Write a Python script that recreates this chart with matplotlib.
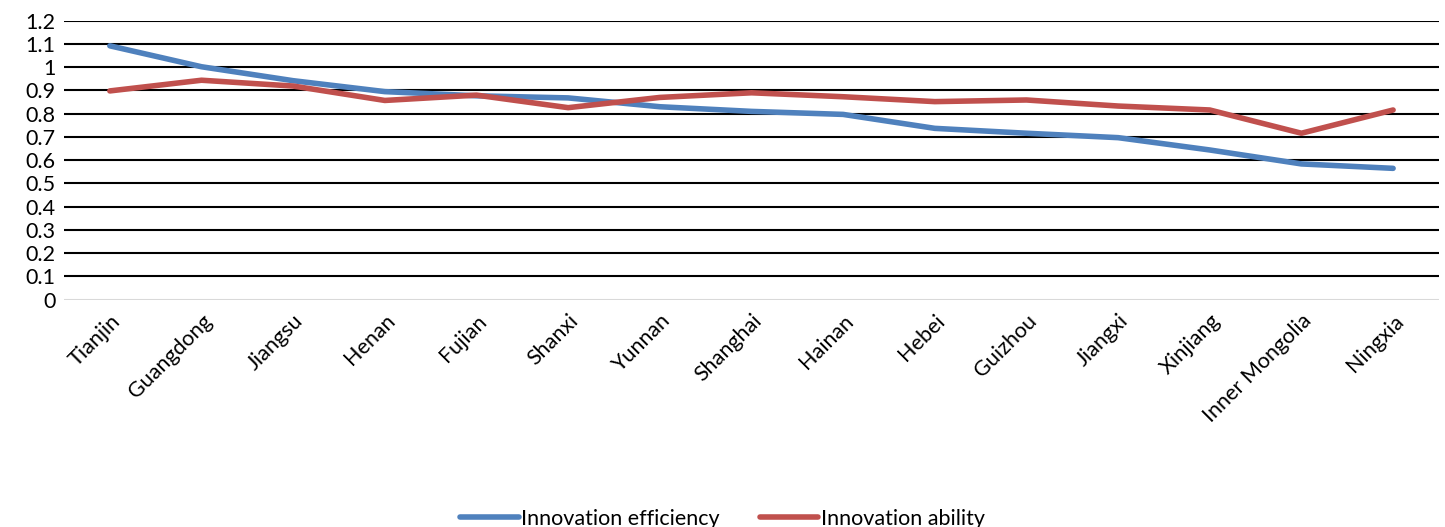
import matplotlib
matplotlib.use('Agg')
from matplotlib import pyplot as plt

provinces = ['Tianjin', 'Guangdong', 'Jiangsu', 'Henan', 'Fujian', 'Shanxi', 'Yunnan',
             'Shanghai', 'Hainan', 'Hebei', 'Guizhou', 'Jiangxi', 'Xinjiang',
             'Inner Mongolia', 'Ningxia']
efficiency = [1.092, 1.002, 0.942, 0.895, 0.877, 0.868, 0.830, 0.810, 0.797, 0.737,
              0.716, 0.697, 0.644, 0.584, 0.565]
ability = [0.898, 0.944, 0.919, 0.857, 0.880, 0.826, 0.870, 0.890, 0.873, 0.852,
           0.859, 0.833, 0.816, 0.716, 0.816]
y_ticks = [0, 0.1, 0.2, 0.3, 0.4, 0.5, 0.6, 0.7, 0.8, 0.9, 1, 1.1, 1.2]
y_labels = ['0', '0.1', '0.2', '0.3', '0.4', '0.5', '0.6', '0.7', '0.8', '0.9', '1', '1.1', '1.2']

plt.rcParams['font.family'] = ['Lato', 'DejaVu Sans']
fs = 15.5

fig = plt.figure(figsize=(14.45, 5.27), dpi=100)
ax = fig.add_axes([0.0443, 0.4313, 0.9515, 0.5294])

x = list(range(len(provinces)))
ax.plot(x, efficiency, color='#4F81BD', lw=4.0, solid_capstyle='round',
        label='Innovation efficiency', zorder=3)
ax.plot(x, ability, color='#C0504D', lw=4.0, solid_capstyle='round',
        label='Innovation ability', zorder=3)

ax.set_xlim(-0.5, len(provinces) - 0.5)
ax.set_ylim(0, 1.2)
ax.set_yticks(y_ticks)
ax.set_yticklabels(y_labels, fontsize=fs)
for t in y_ticks[1:]:
    ax.axhline(t, color='black', lw=1.5, zorder=1)
ax.axhline(0, color='#D9D9D9', lw=1.5, zorder=1)

ax.set_xticks(x)
ax.set_xticklabels(provinces, rotation=45, ha='right', rotation_mode='anchor', fontsize=fs)
ax.tick_params(axis='y', length=0, pad=6)
ax.tick_params(axis='x', length=0, pad=8)
for s in ax.spines.values():
    s.set_visible(False)

fig.legend(loc='lower center', bbox_to_anchor=(0.5, -0.04), ncol=2, frameon=False,
           fontsize=fs, handlelength=2.7, handletextpad=0.1, columnspacing=1.9)

fig.savefig('out.png', dpi=100)
